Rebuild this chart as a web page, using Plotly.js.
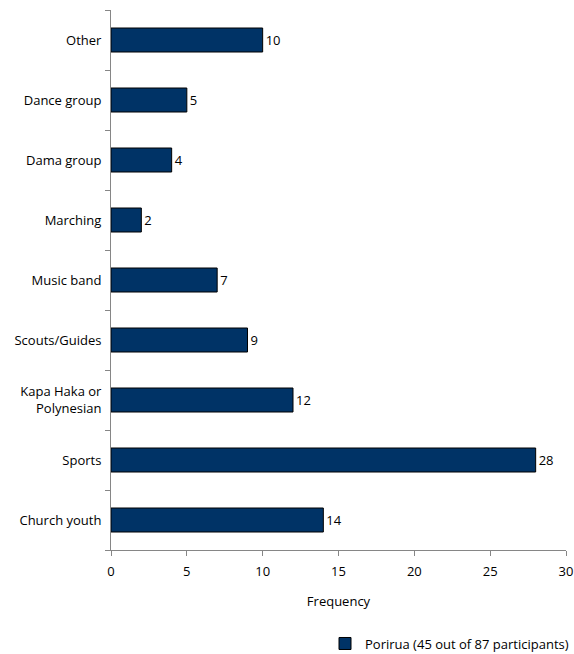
<!DOCTYPE html>
<html>
<head>
<meta charset="utf-8">
<script src="https://cdn.plot.ly/plotly-3.0.1.min.js"></script>
<style>html,body{margin:0;padding:0;background:#fff;}#chart{width:574px;height:654px;}</style>
</head>
<body>
<div id="chart"></div>
<script>
var categories = ["Church youth", "Sports", "Kapa Haka or<br>Polynesian", "Scouts/Guides", "Music band", "Marching", "Dama group", "Dance group", "Other"];
var values = [14, 28, 12, 9, 7, 2, 4, 5, 10];
var seriesName = "Porirua (45 out of 87 participants)";
var xTicks = [0, 5, 10, 15, 20, 25, 30];

var fontFam = "Open Sans, Liberation Sans, sans-serif";
var trace = {
  type: "bar",
  orientation: "h",
  y: categories,
  x: values,
  name: seriesName,
  width: 0.4,
  marker: {color: "#003366", line: {color: "#000000", width: 1}},
  text: values.map(String),
  textposition: "outside",
  cliponaxis: false,
  textfont: {family: fontFam, size: 13, color: "#000"},
  showlegend: true
};
var layout = {
  width: 574, height: 654,
  margin: {l: 111, r: 8, t: 10, b: 104},
  paper_bgcolor: "#fff", plot_bgcolor: "#fff",
  font: {family: fontFam, size: 13, color: "#000"},
  bargap: 0.6,
  xaxis: {
    range: [0, 30], tickvals: xTicks, ticktext: xTicks.map(String),
    showgrid: false, zeroline: false, showline: true, linecolor: "#868686", linewidth: 1,
    ticks: "outside", ticklen: 5, tickcolor: "#868686", ticklabelstandoff: 4,
    automargin: false,
    title: {text: "Frequency", standoff: 18, font: {size: 13}}
  },
  yaxis: {
    type: "category", categoryorder: "array", categoryarray: categories,
    showgrid: false, zeroline: false, showline: true, linecolor: "#868686", linewidth: 1,
    ticks: "outside", ticklen: 5, tickcolor: "#868686", tickson: "boundaries",
    ticklabelstandoff: 6, automargin: false
  },
  legend: {orientation: "h", x: 1, xanchor: "right", xref: "container", yref: "container", y: 0.016, yanchor: "middle", itemwidth: 30, font: {size: 13}},
  showlegend: true
};
Plotly.newPlot("chart", [trace], layout, {displayModeBar: false, staticPlot: true});
</script>
</body>
</html>
